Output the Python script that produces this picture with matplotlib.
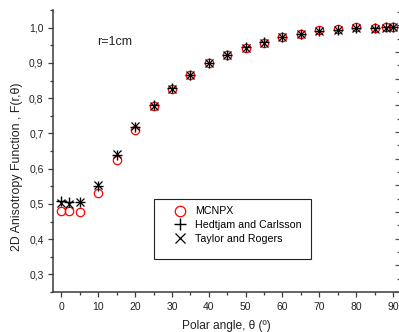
import matplotlib
matplotlib.use('Agg')
import matplotlib.pyplot as plt
from matplotlib.patches import Rectangle
from matplotlib.ticker import MultipleLocator, FuncFormatter

plt.rcParams['font.family'] = ['Liberation Sans', 'DejaVu Sans']

# angulos polares (graus)
angulos = [0, 2, 5, 10, 15, 20, 25, 30, 35, 40, 45, 50, 55, 60, 65, 70, 75, 80, 85, 88, 90]

mcnpx = [0.479, 0.479, 0.476, 0.530, 0.624, 0.709, 0.778, 0.826, 0.866, 0.899, 0.923,
         0.943, 0.958, 0.974, 0.983, 0.993, 0.996, 1.001, 0.999, 1.003, 1.002]
hedtjam = [0.509, 0.505, 0.506, 0.552, 0.638, 0.719, 0.780, 0.828, 0.867, 0.900, 0.924,
           0.944, 0.959, 0.975, 0.983, 0.991, 0.995, 0.999, 0.998, 1.002, 1.001]
taylor = [0.502, 0.500, 0.505, 0.555, 0.643, 0.720, 0.779, 0.827, 0.866, 0.899, 0.923,
          0.943, 0.958, 0.974, 0.982, 0.990, 0.994, 0.998, 0.997, 1.000, 1.001]

cor_eixo = '#3a3a3a'

fig = plt.figure(figsize=(3.99, 3.32), dpi=100)
ax = fig.add_axes([0.1336, 0.1205, 0.866, 0.849])

ax.plot(angulos, mcnpx, linestyle='none', marker='o', markersize=6,
        markerfacecolor='none', markeredgecolor='red', markeredgewidth=0.9, label='MCNPX')
ax.plot(angulos, hedtjam, linestyle='none', marker='+', markersize=6.5,
        color='black', markeredgewidth=1.0, label='Hedtjam and Carlsson')
ax.plot(angulos, taylor, linestyle='none', marker='x', markersize=5.6,
        color='black', markeredgewidth=0.9, label='Taylor and Rogers')

ax.set_xlim(-2.2, 91.6)
ax.set_ylim(0.25, 1.05)
ax.xaxis.set_major_locator(MultipleLocator(10))
ax.xaxis.set_minor_locator(MultipleLocator(5))
ax.yaxis.set_major_locator(MultipleLocator(0.1))
ax.yaxis.set_minor_locator(MultipleLocator(0.05))
ax.yaxis.set_major_formatter(FuncFormatter(lambda v, p: ('%.1f' % v).replace('.', ',')))

ax.tick_params(which='both', direction='out', colors=cor_eixo, labelcolor='#222222',
               labelsize=7.5, width=0.9, top=False, right=False)
ax.tick_params(which='major', length=3.5)
ax.tick_params(which='minor', length=2)

for lado in ['left', 'bottom']:
    ax.spines[lado].set_color(cor_eixo)
    ax.spines[lado].set_linewidth(1.1)
ax.spines['top'].set_visible(False)
ax.spines['right'].set_visible(False)

# eixo da direita so com ticks (cortado na imagem)
ax2 = ax.twinx()
ax2.set_ylim(0, 282 / 26.67)
ax2.yaxis.set_major_locator(MultipleLocator(1))
ax2.yaxis.set_minor_locator(MultipleLocator(0.5))
ax2.tick_params(which='both', direction='in', colors='#555555', labelright=False, width=0.9)
ax2.tick_params(which='major', length=3)
ax2.tick_params(which='minor', length=1.5)
for lado in ['left', 'right', 'top', 'bottom']:
    ax2.spines[lado].set_visible(False)

ax.set_xlabel('Polar angle, θ (º)', fontsize=8.6, color='#222222', labelpad=6)
ax.set_ylabel('2D Anisotropy Function , F(r,θ)', fontsize=8.9, color='#222222')
ax.yaxis.set_label_coords(-0.088, 0.443)

ax.text(0.127, 0.887, 'r=1cm', transform=ax.transAxes, fontsize=9,
        color='#222222', va='center')

# legenda sem moldura + retangulo desenhado a parte
leg = ax.legend(loc='upper left', bbox_to_anchor=(0.342, 0.304), fontsize=7.7,
                frameon=False, borderpad=0, labelspacing=0.35,
                handletextpad=0.6, borderaxespad=0, handlelength=1.6,
                markerscale=1.25)
ax.add_patch(Rectangle((0.291, 0.117), 0.455, 0.213, transform=ax.transAxes,
                       fill=False, edgecolor='#222222', linewidth=0.8, zorder=5))

plt.savefig('out.png', dpi=100)
plt.close()
